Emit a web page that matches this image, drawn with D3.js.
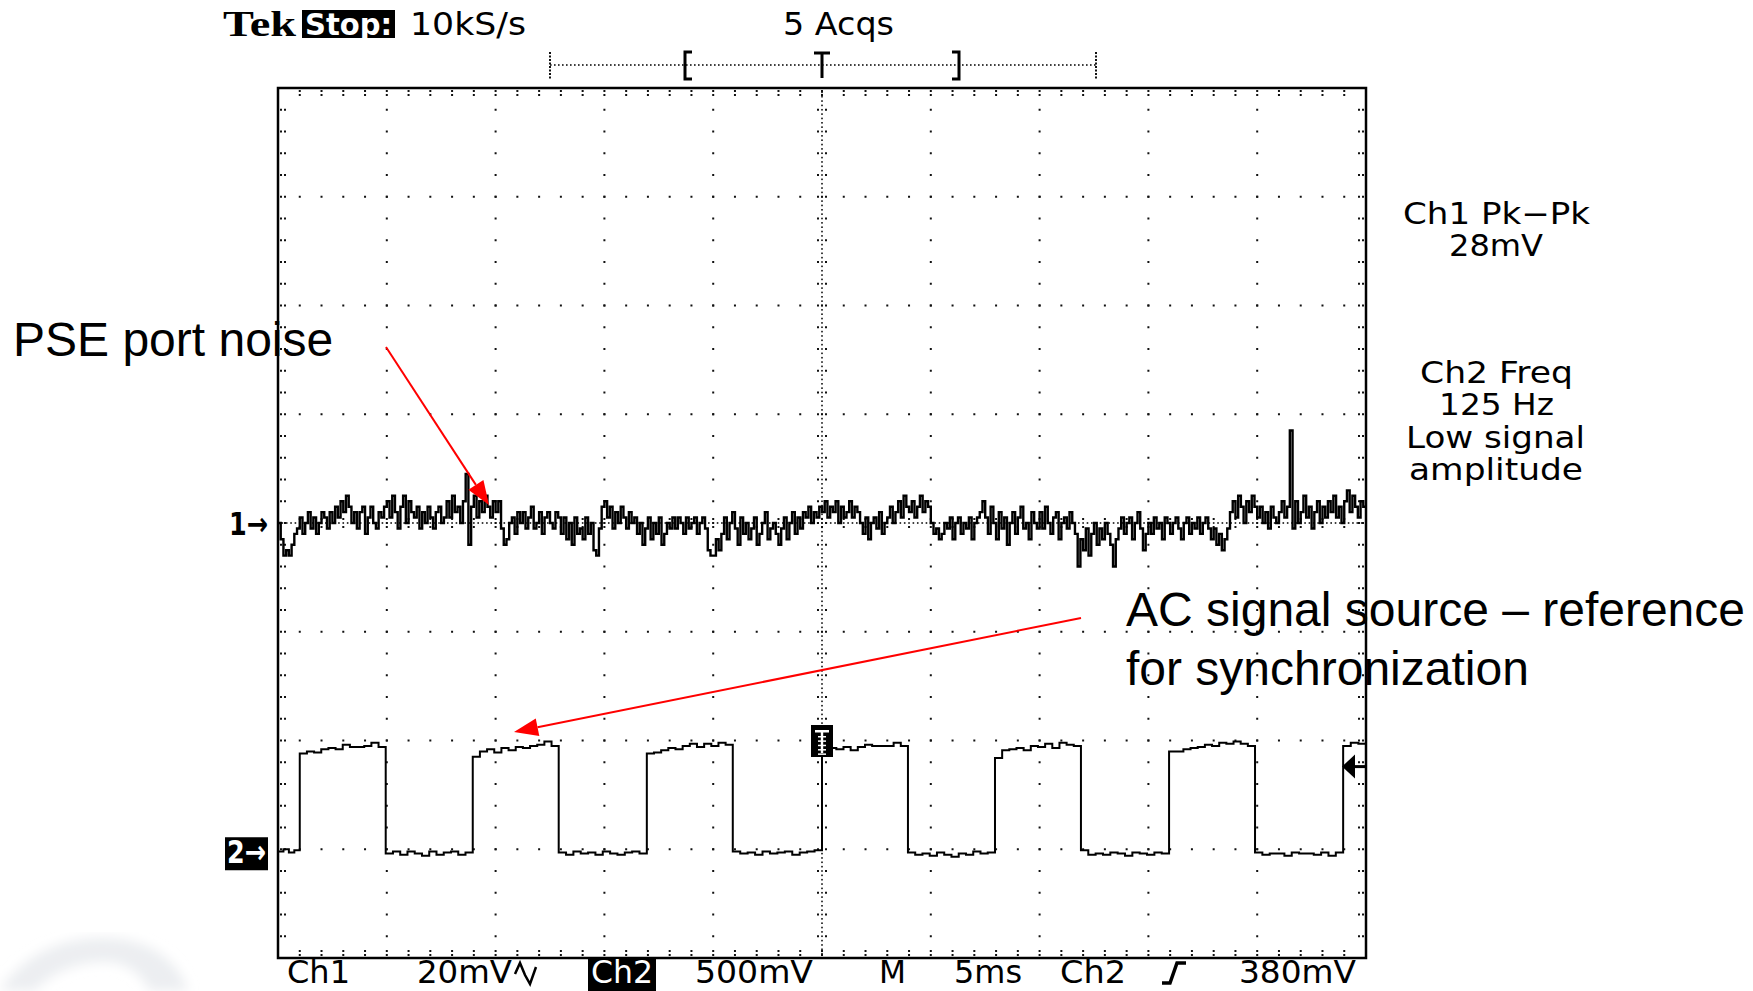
<!DOCTYPE html>
<html>
<head>
<meta charset="utf-8">
<script src="https://cdn.jsdelivr.net/npm/d3@7"></script>
<style>
  body { margin: 0; background: #fff; }
  svg { display: block; }
  .tek { font-family: "DejaVu Sans", sans-serif; fill: #000; }
  .note { font-family: "Liberation Sans", Arial, sans-serif; font-size: 48px; fill: #000; }
</style>
</head>
<body>
<svg id="scope" width="1753" height="991"></svg>
<script>
// ---- data ----
// time axis: 5 ms/div, 10 divisions, trigger at centre (25 ms)
const timeDomain = [0, 50];
const ch1Step = 0.125; // ms between ch1 samples below
// Ch1 (20 mV/div, AC) noise samples in mV, one row per division
const ch1Div0 = [0, -3, -6, -5, -6, -4, -2, -1, 1, -2, 0, 2, -1, 1, -2, 0, 2, 1, -1, 2,
  0, 3, 1, 4, 2, 5, 3, 0, 2, -1, 2, 3, -2, 1, 3, 0, -1, 2, 1, 3];
const ch1Div1 = [4, 1, 5, 2, -1, 3, 5, 0, 4, 2, 1, 3, -1, 2, 0, 3, 1, -1, 2, 3,
  0, 1, 4, 1, 5, 2, 3, 0, 4, 9, -4, 3, 5, 1, 4, 2, 5, 3, 1, 4];
const ch1Div2 = [2, 4, -1, -4, -3, 0, 1, -2, 2, 0, 2, -1, 1, 3, -1, 0, 2, -2, 1, 2,
  0, -1, 2, 1, -2, 1, -3, 0, -4, 1, -2, -1, -3, 1, -2, 0, -5, -6, -1, 3];
const ch1Div3 = [4, 1, 3, -1, 2, 0, 3, 1, -1, 2, 0, 1, -2, 0, -4, -1, 1, -3, 0, -2,
  1, -4, -2, 0, -1, 1, -1, 1, 0, -2, 1, -1, 0, 1, -2, 0, 1, -1, -5, -6];
const ch1Div4 = [-6, -3, -5, -2, 1, -3, 0, 2, -1, -4, 1, -2, 0, -3, -1, 1, -4, -2, 0, 2,
  -3, -1, 0, -2, -4, -1, 1, -3, 0, 2, -2, 1, -1, 2, 1, 3, 0, 2, 1, 3];
const ch1Div5 = [2, 4, 1, 3, 2, 4, 0, 3, 1, 2, 4, 1, 3, 2, 0, -2, 1, -3, 0, 1,
  -1, 2, -2, 0, 1, 3, 0, 2, 4, 1, 5, 3, 2, 4, 1, 3, 5, 2, 4, 3];
const ch1Div6 = [0, -2, -1, -3, -2, 0, -1, 1, -3, 0, 1, -2, 0, -1, 1, -3, 0, 1, 2, 4,
  1, -2, 3, 0, -3, 2, -1, 1, -4, 0, 2, -2, 1, 3, -1, 0, -3, 2, 0, -1];
const ch1Div7 = [2, -1, 3, 0, -2, 1, 2, -3, 0, 1, -1, 2, 0, -2, -8, -3, -5, -1, -6, -2,
  0, -4, -1, -3, 0, -2, -4, -8, -3, -1, 1, -2, 0, 1, -3, 0, 2, -1, -5, -2];
const ch1Div8 = [0, -2, 1, -1, 0, -3, 1, 0, -2, 0, 1, -1, -3, 0, 1, -2, 0, -1, 1, -2,
  0, 1, -1, -3, -1, -4, -2, -5, -3, -1, 2, 4, 1, 5, 3, 0, 4, 2, 5, 3];
const ch1Div9 = [1, 3, 0, 2, -1, 3, 1, 0, 2, 4, 1, 3, 17, -1, 4, 0, 2, 5, 1, 3,
  -1, 2, 4, 0, 3, 1, 4, 2, 5, 1, 3, 0, 4, 6, 2, 5, 3, 1, 4, 3, 3];

// Ch2 (500 mV/div) square wave: segment boundaries in ms, alternating low / high
const ch2Edges = [0, 1.0, 4.95, 8.95, 12.9, 16.95, 20.9, 25, 28.95, 32.95, 36.9, 40.95, 44.9, 48.95, 50];
// level samples (mV) inside each segment
const ch2Levels = [
  [-10, 0, -15, -5],
  [440, 450, 445, 460, 465, 460, 480, 470, 470, 475, 490, 470],
  [-20, -10, -25, -10, -20, -30, -10, -25, -15, -10, -25, -15],
  [425, 450, 460, 445, 465, 455, 470, 465, 475, 480, 495, 475],
  [-15, -25, -10, -20, -15, -25, -10, -20, -25, -15, -10, -20],
  [440, 445, 455, 465, 460, 475, 485, 470, 485, 475, 490, 480],
  [-10, -20, -15, -25, -10, -20, -15, -10, -25, -15, -10, -5],
  [455, 465, 460, 470, 455, 470, 480, 475, 475, 475, 490, 475],
  [-15, -25, -20, -30, -15, -25, -35, -20, -25, -10, -20, -15],
  [420, 455, 460, 465, 455, 475, 470, 485, 465, 490, 480, 475],
  [-5, -25, -20, -25, -15, -20, -30, -15, -20, -25, -15, -20],
  [450, 450, 460, 465, 470, 480, 475, 490, 485, 495, 485, 475],
  [-15, -25, -20, -20, -30, -15, -20, -20, -25, -15, -30, -15],
  [475, 490, 485]
];
const triggerLevel = 380; // mV on Ch2

const headerItems = ["10kS/s", "5 Acqs"];
const readoutLines = ["Ch1 Pk\u2212Pk", "28mV", "Ch2 Freq", "125 Hz", "Low signal", "amplitude"];
const footerItems = ["Ch1", "20mV", "Ch2", "500mV", "M", "5ms", "Ch2", "380mV"];

// ---- drawing ----
const svg = d3.select("#scope");
const box = { l: 278, r: 1366, t: 88, b: 958 };

const x = d3.scaleLinear().domain(timeDomain).range([box.l, box.r]);
const y1 = d3.scaleLinear().domain([-80, 80]).range([box.b, box.t]);
const y2 = d3.scaleLinear().domain([-500, 3500]).range([box.b, box.t]);

// faint, blurred watermark in the lower left corner
svg.append("defs").append("filter").attr("id", "soft")
  .append("feGaussianBlur").attr("stdDeviation", 6);
svg.append("path")
  .attr("d", "M0,991 C20,958 60,935 110,938 C150,940 178,960 188,991 L150,991 C140,972 125,962 104,962 C72,962 45,978 35,991 Z")
  .attr("fill", "#eceef1").attr("filter", "url(#soft)");

const grid = svg.append("g").attr("fill", "#111");
function dot(cx, cy, w = 2, h = 2) {
  grid.append("rect").attr("x", cx - w / 2).attr("y", cy - h / 2).attr("width", w).attr("height", h);
}

// regular graticule lines: a dot at every minor division
d3.range(5, 50, 5).filter(t => t !== 25).forEach(t => {
  d3.range(-76, 80, 4).forEach(v => dot(x(t), y1(v)));
});
d3.range(-60, 61, 20).filter(v => v !== 0).forEach(v => {
  d3.range(1, 50, 1).forEach(t => dot(x(t), y1(v)));
});
// centre cross: dense dots plus small ticks at minor divisions
d3.range(0.2, 50, 0.2).forEach(t => dot(x(t), y1(0), 1.6, 1.6));
d3.range(-79.2, 80, 0.8).forEach(v => dot(x(25), y1(v), 1.6, 1.6));
d3.range(1, 50, 1).forEach(t => { dot(x(t), y1(0) - 4); dot(x(t), y1(0) + 4); });
d3.range(-76, 80, 4).forEach(v => { dot(x(25) - 4, y1(v)); dot(x(25) + 4, y1(v)); });
// ticks along the frame
d3.range(1, 50, 1).forEach(t => {
  dot(x(t), box.t + 3); dot(x(t), box.t + 7);
  dot(x(t), box.b - 3); dot(x(t), box.b - 7);
});
d3.range(-76, 80, 4).forEach(v => {
  dot(box.l + 3, y1(v)); dot(box.l + 7, y1(v));
  dot(box.r - 3, y1(v)); dot(box.r - 7, y1(v));
});

svg.append("rect")
  .attr("x", box.l).attr("y", box.t).attr("width", box.r - box.l).attr("height", box.b - box.t)
  .attr("fill", "none").attr("stroke", "#000").attr("stroke-width", 2.5);

// Ch1 trace
const ch1 = [].concat(ch1Div0, ch1Div1, ch1Div2, ch1Div3, ch1Div4, ch1Div5, ch1Div6, ch1Div7, ch1Div8, ch1Div9);
const ch1Line = d3.line().x((d, i) => x(i * ch1Step)).y(d => y1(d)).curve(d3.curveStepAfter);
svg.append("path").datum(ch1).attr("d", ch1Line)
  .attr("fill", "none").attr("stroke", "#000").attr("stroke-width", 2.4);

// Ch2 trace
const ch2 = [];
ch2Levels.forEach((lv, s) => {
  const t0 = ch2Edges[s], t1 = ch2Edges[s + 1];
  lv.forEach((v, k) => ch2.push([t0 + (t1 - t0) * k / lv.length, v]));
});
ch2.push([50, ch2Levels[ch2Levels.length - 1].slice(-1)[0]]);
const ch2Line = d3.line().x(d => x(d[0])).y(d => y2(d[1])).curve(d3.curveStepAfter);
svg.append("path").datum(ch2).attr("d", ch2Line)
  .attr("fill", "none").attr("stroke", "#000").attr("stroke-width", 2);

// trigger marker on Ch2 at centre
const tx = x(25);
svg.append("rect").attr("x", tx - 11).attr("y", 725).attr("width", 22).attr("height", 32).attr("fill", "#000");
svg.append("rect").attr("x", tx - 7).attr("y", 730).attr("width", 14).attr("height", 2.5).attr("fill", "#fff");
svg.append("rect").attr("x", tx - 1.2).attr("y", 730).attr("width", 2.4).attr("height", 23).attr("fill", "#fff");
d3.range(736, 754, 4.35).forEach(yy => svg.append("rect").attr("x", tx - 4).attr("y", yy).attr("width", 8).attr("height", 1.5).attr("fill", "#fff"));

// trigger level arrow on the right edge
const ty = y2(triggerLevel);
svg.append("path").attr("d", `M${box.r - 24},${ty} L${box.r - 11},${ty - 12} L${box.r - 11},${ty + 12} Z`).attr("fill", "#000");
svg.append("rect").attr("x", box.r - 12).attr("y", ty - 1.5).attr("width", 12).attr("height", 3).attr("fill", "#000");

// channel ground markers
svg.append("text").attr("class", "tek").attr("x", 229).attr("y", y1(0) + 12).style("font-weight", "bold")
  .attr("font-size", 32).attr("textLength", 39).attr("lengthAdjust", "spacingAndGlyphs").text("1\u2192");
svg.append("rect").attr("x", 225).attr("y", y2(0) - 12).attr("width", 43).attr("height", 33).attr("fill", "#000");
svg.append("text").attr("class", "tek").attr("x", 227).attr("y", y2(0) + 14).style("fill", "#fff").style("font-weight", "bold")
  .attr("font-size", 32).attr("textLength", 39).attr("lengthAdjust", "spacingAndGlyphs").text("2\u2192");

// record / trigger position bar above the screen
const bar = svg.append("g");
const barY = 65;
d3.range(550, 1097, 4).forEach(xx => bar.append("rect").attr("x", xx).attr("y", barY - 0.8).attr("width", 1.6).attr("height", 1.6).attr("fill", "#111"));
[550, 1096].forEach(xx => d3.range(52, 79, 3.5).forEach(yy => bar.append("rect").attr("x", xx - 1).attr("y", yy).attr("width", 2).attr("height", 2).attr("fill", "#111")));
bar.append("path").attr("d", "M692,52 L685,52 L685,79 L692,79").attr("fill", "none").attr("stroke", "#000").attr("stroke-width", 3);
bar.append("path").attr("d", "M952,52 L959,52 L959,79 L952,79").attr("fill", "none").attr("stroke", "#000").attr("stroke-width", 3);
bar.append("path").attr("d", `M${tx - 8},53 L${tx + 8},53 M${tx},53 L${tx},78`).attr("fill", "none").attr("stroke", "#000").attr("stroke-width", 3);

// header
svg.append("text").attr("x", 223).attr("y", 36)
  .style("font-family", "'Liberation Serif', serif").style("font-weight", "bold").attr("font-size", 36)
  .attr("textLength", 73).attr("lengthAdjust", "spacingAndGlyphs").text("Tek");
svg.append("rect").attr("x", 302).attr("y", 10).attr("width", 93).attr("height", 28).attr("fill", "#000");
svg.append("text").attr("class", "tek").attr("x", 305).attr("y", 35).style("fill", "#fff").style("font-weight", "bold")
  .attr("font-size", 31).attr("textLength", 87).attr("lengthAdjust", "spacingAndGlyphs").text("Stop:");
const headerPos = [[410, 116], [783, 111]];
headerItems.forEach((s, i) => svg.append("text").attr("class", "tek").attr("x", headerPos[i][0]).attr("y", 35)
  .attr("font-size", 32).attr("textLength", headerPos[i][1]).attr("lengthAdjust", "spacingAndGlyphs").text(s));

// measurement readouts on the right
const readPos = [[1403, 224, 187], [1449, 256, 94], [1420, 383, 153], [1439, 415, 115], [1406, 448, 179], [1409, 480, 174]];
readoutLines.forEach((s, i) => svg.append("text").attr("class", "tek")
  .attr("x", readPos[i][0]).attr("y", readPos[i][1]).attr("font-size", 30)
  .attr("textLength", readPos[i][2]).attr("lengthAdjust", "spacingAndGlyphs").text(s));

// footer settings line
svg.append("rect").attr("x", 588).attr("y", 959).attr("width", 68).attr("height", 32).attr("fill", "#000");
const footPos = [[287, 63], [417, 95], [591, 62], [695, 118], [879, 27], [954, 68], [1060, 66], [1239, 117]];
footerItems.forEach((s, i) => svg.append("text").attr("class", "tek")
  .attr("x", footPos[i][0]).attr("y", 983).attr("font-size", 32)
  .style("fill", i === 2 ? "#fff" : "#000")
  .attr("textLength", footPos[i][1]).attr("lengthAdjust", "spacingAndGlyphs").text(s));
// AC coupling glyph after 20mV and rising-edge slope glyph
svg.append("path").attr("d", "M515,974 L520,963 L525,975 L530,984 L536,967")
  .attr("fill", "none").attr("stroke", "#000").attr("stroke-width", 2.5);
svg.append("path").attr("d", "M1162,983 L1170,983 L1177,963 L1186,963")
  .attr("fill", "none").attr("stroke", "#000").attr("stroke-width", 3.5);

// red annotations
function arrow(x0, y0, x1, y1p) {
  const a = Math.atan2(y1p - y0, x1 - x0), len = 24, half = 9;
  const bx = x1 - len * Math.cos(a), by = y1p - len * Math.sin(a);
  svg.append("line").attr("x1", x0).attr("y1", y0).attr("x2", bx).attr("y2", by)
    .attr("stroke", "#ff0000").attr("stroke-width", 2);
  svg.append("path").attr("fill", "#ff0000").attr("d",
    `M${x1},${y1p} L${bx + half * Math.sin(a)},${by - half * Math.cos(a)} L${bx - half * Math.sin(a)},${by + half * Math.cos(a)} Z`);
}
svg.append("text").attr("class", "note").attr("x", 13).attr("y", 356).text("PSE port noise");
arrow(386, 347, 489, 505);
svg.append("text").attr("class", "note").attr("x", 1126).attr("y", 626).text("AC signal source \u2013 reference");
svg.append("text").attr("class", "note").attr("x", 1126).attr("y", 685).text("for synchronization");
arrow(1081, 618, 514, 732);
</script>
</body>
</html>
